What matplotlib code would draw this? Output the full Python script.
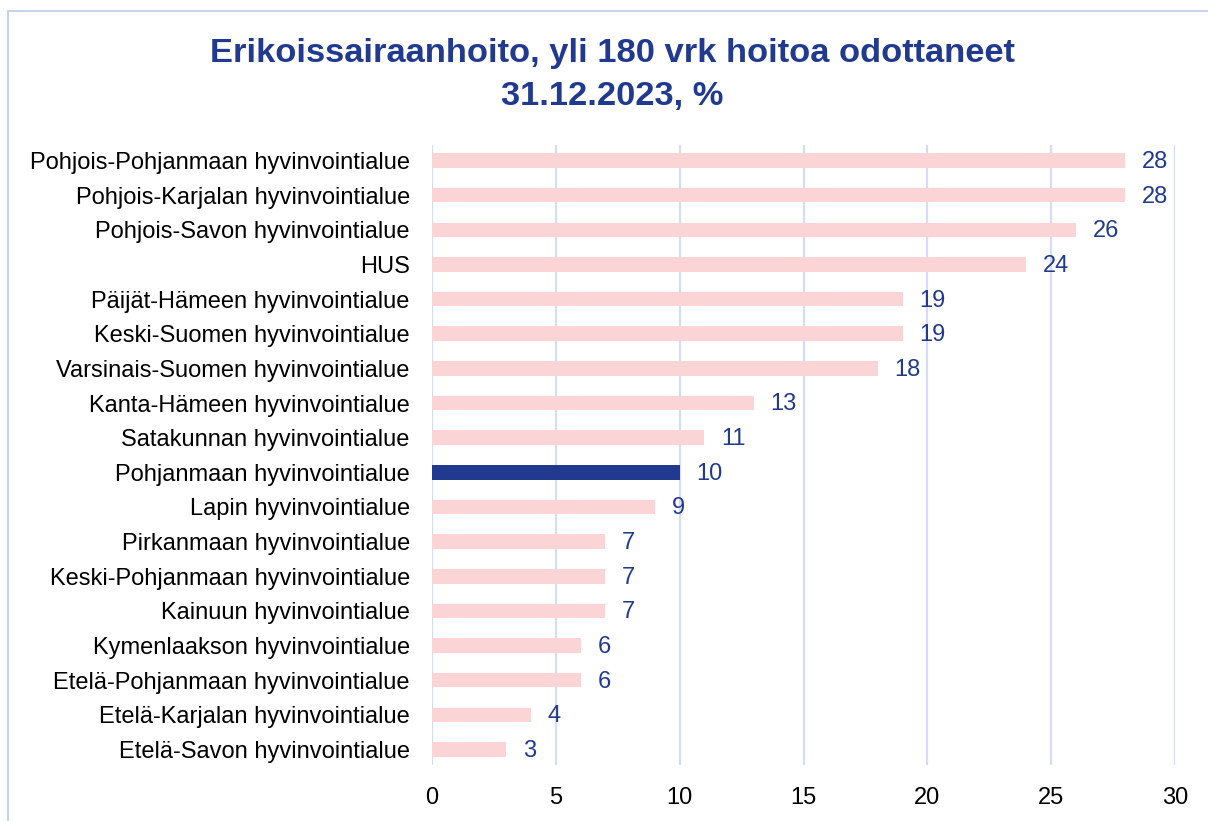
import matplotlib.pyplot as plt
from matplotlib.patches import Rectangle

plt.rcParams['font.family'] = ['Liberation Sans', 'DejaVu Sans']

# Share of patients waiting over 180 days, by wellbeing services county
regions = [
    "Pohjois-Pohjanmaan hyvinvointialue",
    "Pohjois-Karjalan hyvinvointialue",
    "Pohjois-Savon hyvinvointialue",
    "HUS",
    "Päijät-Hämeen hyvinvointialue",
    "Keski-Suomen hyvinvointialue",
    "Varsinais-Suomen hyvinvointialue",
    "Kanta-Hämeen hyvinvointialue",
    "Satakunnan hyvinvointialue",
    "Pohjanmaan hyvinvointialue",
    "Lapin hyvinvointialue",
    "Pirkanmaan hyvinvointialue",
    "Keski-Pohjanmaan hyvinvointialue",
    "Kainuun hyvinvointialue",
    "Kymenlaakson hyvinvointialue",
    "Etelä-Pohjanmaan hyvinvointialue",
    "Etelä-Karjalan hyvinvointialue",
    "Etelä-Savon hyvinvointialue",
]
values = [28, 28, 26, 24, 19, 19, 18, 13, 11, 10, 9, 7, 7, 7, 6, 6, 4, 3]
highlight = "Pohjanmaan hyvinvointialue"
xticks = [0, 5, 10, 15, 20, 25, 30]

navy = "#213a8f"
pink = "#fbd5d5"
grid = "#d6dcf3"

fig = plt.figure(figsize=(12.08, 8.21), dpi=100)
ax = fig.add_axes([0.3576, 0.0682, 0.6151, 0.7552])

colors = [navy if r == highlight else pink for r in regions]
pos = list(range(len(regions)))
bars = ax.barh(pos, values, height=0.42, color=colors, zorder=3)

for b, v in zip(bars, values):
    ax.annotate(str(v), (b.get_width(), b.get_y() + b.get_height() / 2),
                xytext=(12, -1), textcoords='offset points',
                ha='left', va='center', fontsize=17, color=navy)

ax.set_xlim(0, 30)
ax.set_ylim(len(regions) - 0.55, -0.45)
ax.set_xticks(xticks)
ax.set_yticks(pos)
ax.set_yticklabels(regions)
ax.tick_params(axis='both', length=0, labelsize=17, colors='black')
ax.tick_params(axis='y', pad=16)
ax.tick_params(axis='x', pad=16)
ax.grid(axis='x', color=grid, linewidth=1.6, zorder=0)
for s in ax.spines.values():
    s.set_visible(False)

fig.text(0.507, 0.909, "Erikoissairaanhoito, yli 180 vrk hoitoa odottaneet\n31.12.2023, %",
         ha='center', va='center', fontsize=24.8, fontweight='bold', color=navy,
         linespacing=1.5)

fig.patches.append(Rectangle((0.0066, -0.02), 1.02, 1.0066, transform=fig.transFigure,
                             fill=False, edgecolor="#c9d1ef", linewidth=1.5))

fig.savefig("out.png", dpi=100)
